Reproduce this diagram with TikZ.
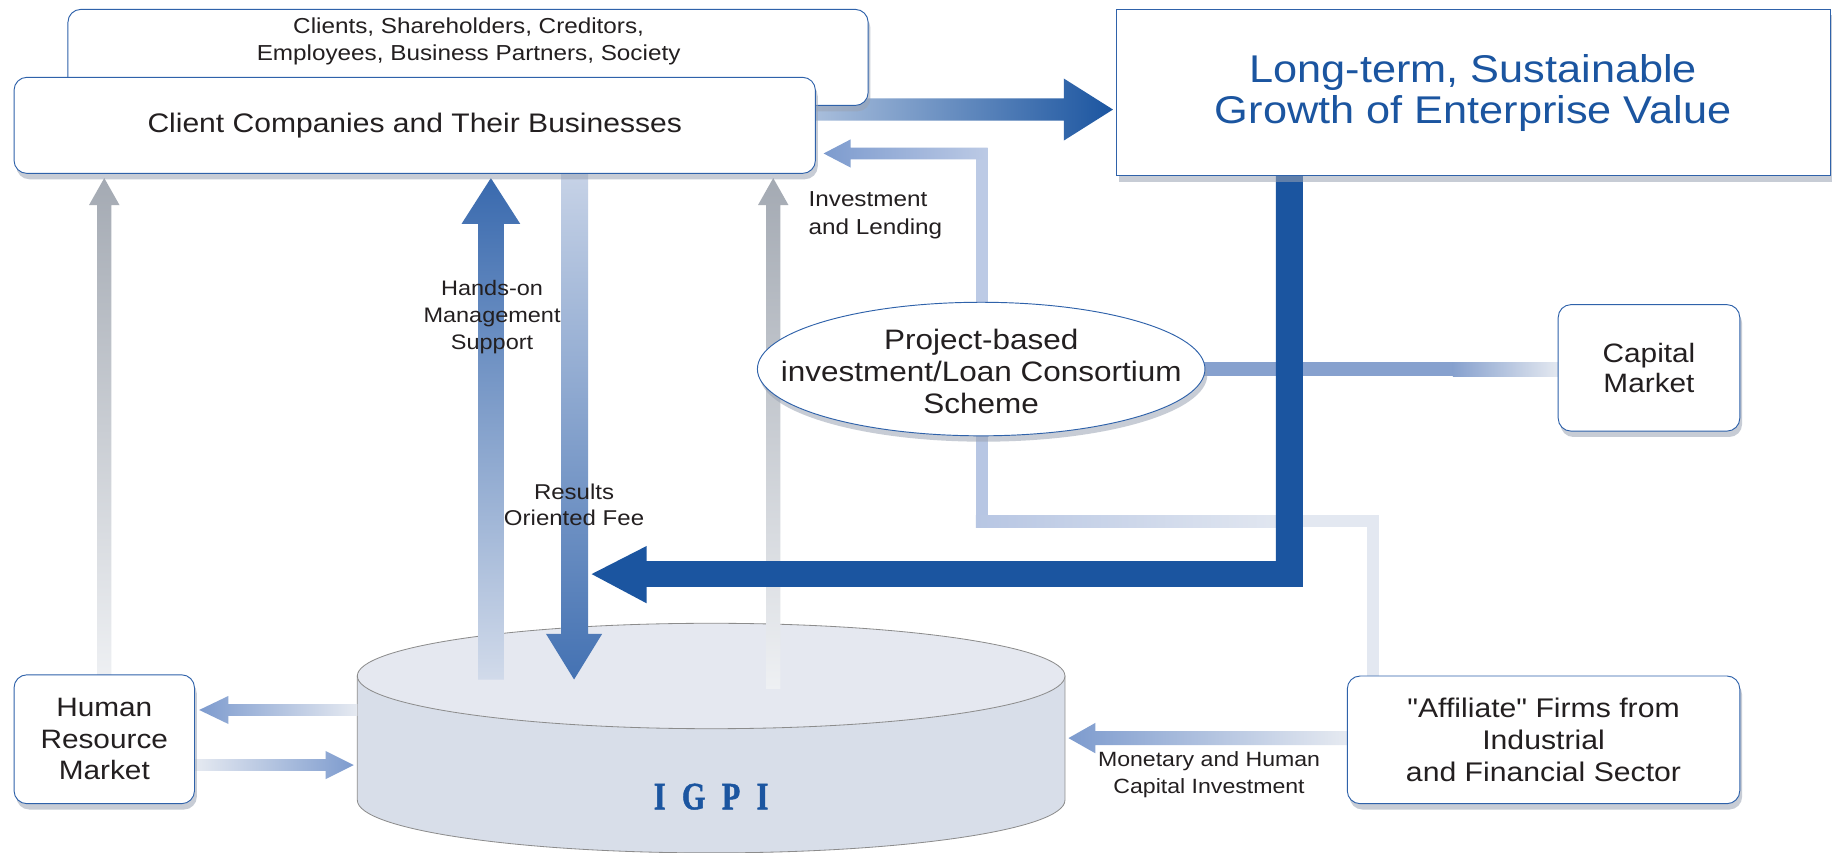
\documentclass[tikz,border=0pt]{standalone}
\usepackage{fontspec}
\setmainfont{Liberation Sans}[FakeStretch=1.12]
\newfontfamily\qfont{Liberation Sans}[FakeStretch=1.12]
\newfontfamily\igpifont{Liberation Serif}[FakeStretch=0.78,FakeBold=1.2]
\usetikzlibrary{shapes.geometric,shadows}
\definecolor{bluebd}{HTML}{2F62AA}
\definecolor{darkblue}{HTML}{1B55A0}
\definecolor{txtc}{HTML}{231F20}
\definecolor{arrc}{HTML}{7D9BCE}
\definecolor{palec}{HTML}{E6EAF1}
\definecolor{invc}{HTML}{BCCAE5}
\definecolor{capc}{HTML}{87A1CE}
\definecolor{lowc}{HTML}{B7C6E3}
\definecolor{lowc2}{HTML}{E3E8F1}
\definecolor{grayt}{HTML}{A4AAB3}
\definecolor{grayb}{HTML}{EEF0F3}
\definecolor{cylside}{HTML}{D8DEE9}
\definecolor{cyltop}{HTML}{E5E8F0}
\definecolor{cylline}{HTML}{8C8C8C}
\definecolor{shadowc}{HTML}{9AA3B3}
\newcommand{\fsz}[2]{\fontsize{#1}{#2}\selectfont}
\pgfdeclarelayer{backg}
\pgfdeclarelayer{bg}
\pgfdeclarelayer{cyl}
\pgfdeclarelayer{mid}
\pgfsetlayers{backg,bg,cyl,mid,main}
\begin{document}
\begin{tikzpicture}[x=1pt,y=-1pt,
  shad/.style={drop shadow={shadow xshift=2pt,shadow yshift=-5pt,fill=shadowc,opacity=0.55}},
  box/.style={draw=bluebd,line width=0.8pt,fill=white,rounded corners=11pt,shad,inner sep=0pt},
  sqbox/.style={draw=bluebd,line width=0.8pt,fill=white,shad,inner sep=0pt},
  txt/.style={text=txtc,align=center,inner sep=0pt},
  lbl/.style={text=txtc,align=center,inner sep=0pt}]
\useasboundingbox (0,0) rectangle (1568,728);
\begin{pgfonlayer}{backg}
  \fill[white] (0,0) rectangle (1568,728);
\end{pgfonlayer}

% ---------- nodes ----------
\node[box,minimum width=683pt,minimum height=82pt] (stake) at (399.5,49) {};
\node[txt,font={\fsz{18.5}{23}}] (staketext) at (400,35.5) {Clients, Shareholders, Creditors,\\Employees, Business Partners, Society};
\node[box,minimum width=684pt,minimum height=82pt,font={\fsz{22.9}{27}},text=txtc] (client) at (354,107) {Client Companies and Their Businesses};
\node[sqbox,minimum width=609pt,minimum height=142pt,font={\fsz{33}{35}},text=darkblue,align=center] (growth) at (1257.5,79) {Long-term, Sustainable\\Growth of Enterprise Value};
\node[draw=bluebd,line width=0.8pt,fill=white,ellipse,shad,minimum width=382pt,minimum height=114pt,inner sep=0pt] (scheme) at (837.5,315) {};
\node[txt,font={\fsz{24}{27}}] (schemetext) at (837.5,317) {Project-based\\investment/Loan Consortium\\Scheme};
\node[box,minimum width=155pt,minimum height=108pt,font={\fsz{22.7}{26}},text=txtc,align=center] (capital) at (1407.5,314) {Capital\\Market};
\node[box,minimum width=335pt,minimum height=109pt,font={\qfont\fsz{23}{27}},text=txtc,align=center] (affil) at (1317.5,631.5) {"Affiliate" Firms from\\Industrial\\and Financial Sector};
\node[box,minimum width=154pt,minimum height=110pt,font={\fsz{22.7}{27}},text=txtc,align=center] (hr) at (89,631) {Human\\Resource\\Market};

\node[lbl,font={\fsz{18.5}{24}},align=left,anchor=west] (invlbl) at (690,184) {Investment\\and Lending};
\node[lbl,font={\fsz{17.6}{23}}] (monlbl) at (1032,661.5) {Monetary and Human\\Capital Investment};
\node[lbl,font={\fsz{17.9}{23}}] (handslbl) at (420,271) {Hands-on\\Management\\Support};
\node[lbl,font={\fsz{18.3}{22}}] (reslbl) at (490,431) {Results\\Oriented Fee};

% ---------- background connectors ----------
\begin{pgfonlayer}{bg}
  % to long-term growth
  \shade[left color=bluebd!40,right color=darkblue] (690,84) -- (908,84) -- (908,67) -- (950,93.5) -- (908,120) -- (908,103) -- (690,103) -- cycle;
  % investment and lending
  \fill[invc] (833,126) rectangle (843,262);
  \shade[left color=arrc,right color=invc] (843,126) -- (726,126) -- (726,119) -- (703,131) -- (726,143) -- (726,136) -- (843,136) -- cycle;
  % capital market line
  \fill[capc] (1020,309) rectangle (1241,321);
  \shade[left color=capc,right color=palec] (1240,309) rectangle (1332,321);
  % scheme to affiliate
  \fill[lowc] (833,368) rectangle (843,450);
  \shade[left color=lowc,right color=lowc2] (833,440) rectangle (1100,450);
  \fill[lowc2] (1100,440) rectangle (1177,450);
  \fill[lowc2] (1167,440) rectangle (1177,580);
  % gray left arrow
  \shade[top color=grayt,bottom color=grayb] (83,578) -- (83,175) -- (76,175) -- (89,152) -- (102,175) -- (95,175) -- (95,578) -- cycle;
\end{pgfonlayer}

% ---------- cylinder ----------
\begin{pgfonlayer}{cyl}
  \filldraw[fill=cylside,draw=cylline,line width=0.7pt] (305,577) -- (305,683) arc[start angle=180,end angle=0,x radius=302,y radius=45] -- (909,577) -- cycle;
  \filldraw[fill=cyltop,draw=cylline,line width=0.7pt] (607,577) ellipse [x radius=302,y radius=45];
  \node[font={\igpifont\bfseries\fsz{33}{33}},text=darkblue,inner sep=0pt] (igpi) at (607,680) {I\hspace{14pt}G\hspace{14pt}P\hspace{14pt}I};
\end{pgfonlayer}

% ---------- arrows over cylinder ----------
\begin{pgfonlayer}{mid}
  % gray right arrow
  \shade[top color=grayt,bottom color=grayb] (654,588) -- (654,175) -- (647,175) -- (660,152) -- (673,175) -- (666,175) -- (666,588) -- cycle;
  % hands-on management support
  \shade[top color=bluebd!95!white,middle color=arrc!90,bottom color=palec!80!arrc] (408,580) -- (408,191) -- (394,191) -- (419,152) -- (444,191) -- (430,191) -- (430,580) -- cycle;
  % results oriented fee
  \shade[top color=palec!70!arrc,middle color=arrc!90,bottom color=bluebd!90!white] (479,148) -- (479,541) -- (466,541) -- (490,580) -- (514,541) -- (502,541) -- (502,148) -- cycle;
  % dark blue return
  \fill[darkblue] (1089,148) -- (1112,148) -- (1112,501) -- (552,501) -- (552,515) -- (505,490) -- (552,466) -- (552,479) -- (1089,479) -- cycle;
  % human resource arrows
  \shade[left color=arrc,right color=palec] (305,601) -- (195,601) -- (195,594) -- (170,606) -- (195,618) -- (195,611) -- (305,611) -- cycle;
  \shade[left color=palec,right color=arrc] (166,648) -- (278,648) -- (278,641) -- (302,653) -- (278,665) -- (278,658) -- (166,658) -- cycle;
  % monetary and human capital investment
  \shade[left color=arrc,right color=palec] (1150,624) -- (935,624) -- (935,617) -- (912,630) -- (935,643) -- (935,636) -- (1150,636) -- cycle;
\end{pgfonlayer}
\end{tikzpicture}
\end{document}
